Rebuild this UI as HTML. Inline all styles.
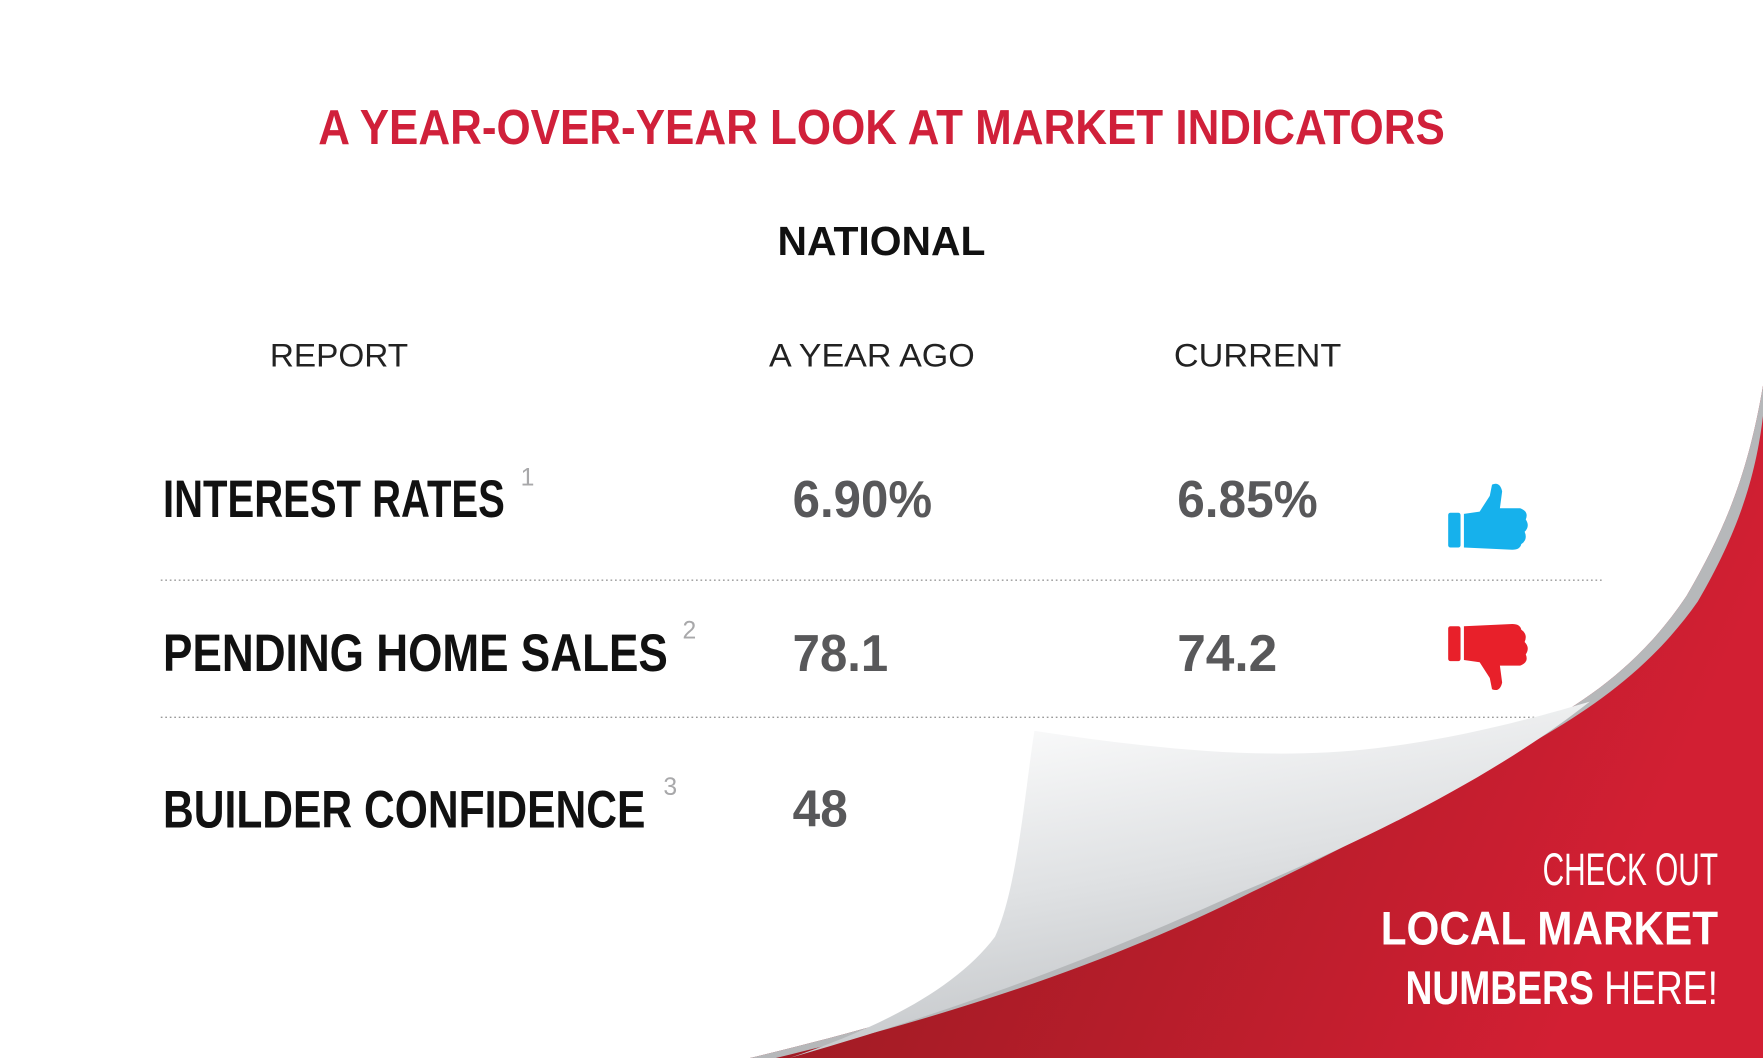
<!DOCTYPE html>
<html><head><meta charset="utf-8"><style>
html,body{margin:0;padding:0;background:#fff;}
svg{display:block;}
text{font-family:"Liberation Sans",sans-serif;}
</style></head><body>
<svg width="1763" height="1058" viewBox="0 0 1568 941" preserveAspectRatio="none" xmlns="http://www.w3.org/2000/svg">
<defs>
<linearGradient id="red" x1="0" y1="0" x2="1" y2="0.3">
<stop offset="0" stop-color="#8e1a1f"/><stop offset="0.6" stop-color="#b51d2a"/><stop offset="1" stop-color="#d21f33"/>
</linearGradient>
<linearGradient id="flap" x1="0.2" y1="0" x2="0.6" y2="1">
<stop offset="0" stop-color="#ffffff"/><stop offset="0.5" stop-color="#dfe1e3"/><stop offset="1" stop-color="#b9bcbf"/>
</linearGradient>
</defs>
<rect width="1568" height="941" fill="#fff"/>
<text x="784" y="128" text-anchor="middle" font-size="44" font-weight="bold" fill="#d0203a" textLength="1002" lengthAdjust="spacingAndGlyphs">A YEAR-OVER-YEAR LOOK AT MARKET INDICATORS</text>
<text x="784" y="227" text-anchor="middle" font-size="36" font-weight="bold" fill="#111" textLength="185" lengthAdjust="spacingAndGlyphs">NATIONAL</text>
<text x="240" y="326" font-size="29" fill="#222" textLength="123" lengthAdjust="spacingAndGlyphs">REPORT</text>
<text x="684" y="326" font-size="29" fill="#222" textLength="183" lengthAdjust="spacingAndGlyphs">A YEAR AGO</text>
<text x="1044" y="326" font-size="29" fill="#222" textLength="149" lengthAdjust="spacingAndGlyphs">CURRENT</text>

<g font-weight="bold" font-size="47" fill="#111">
<text x="145" y="460" textLength="304" lengthAdjust="spacingAndGlyphs">INTEREST RATES</text>
<text x="145" y="597" textLength="449" lengthAdjust="spacingAndGlyphs">PENDING HOME SALES</text>
<text x="145" y="736" textLength="429" lengthAdjust="spacingAndGlyphs">BUILDER CONFIDENCE</text>
</g>
<g font-size="22" fill="#a8a8aa">
<text x="463" y="432">1</text>
<text x="607" y="568">2</text>
<text x="590" y="707">3</text>
</g>
<g font-weight="bold" font-size="46" fill="#58585a">
<text x="705" y="460" textLength="124" lengthAdjust="spacingAndGlyphs">6.90%</text>
<text x="1047" y="460" textLength="125" lengthAdjust="spacingAndGlyphs">6.85%</text>
<text x="705" y="597" textLength="85" lengthAdjust="spacingAndGlyphs">78.1</text>
<text x="1047" y="597" textLength="89" lengthAdjust="spacingAndGlyphs">74.2</text>
<text x="705" y="735" textLength="49" lengthAdjust="spacingAndGlyphs">48</text>
</g>
<line x1="143" y1="516" x2="1425" y2="516" stroke="#999" stroke-width="1.2" stroke-dasharray="1.5 2.5"/>
<line x1="143" y1="638" x2="1425" y2="638" stroke="#999" stroke-width="1.2" stroke-dasharray="1.5 2.5"/>

<g fill="#16b1ec">
<rect x="1288" y="456" width="11" height="31" rx="2"/>
<path d="M1302,457 L1316,455 L1325,441 L1327,431 Q1334,428 1336,437 L1334,452 L1352,452 Q1360,455 1357,462 Q1361,468 1356,473 Q1359,480 1353,484 Q1352,489 1345,489 L1302,487 Z"/>
</g>
<g fill="#e8202a">
<rect x="1288" y="557" width="11" height="31" rx="2"/>
<path d="M1302,587 L1316,589 L1325,603 L1327,613 Q1334,616 1336,607 L1334,592 L1352,592 Q1360,589 1357,582 Q1361,576 1356,571 Q1359,564 1353,560 Q1352,555 1345,555 L1302,557 Z"/>
</g>

<path d="M1568,343 C1555,420 1535,470 1500,530 C1460,590 1410,625 1356,653 C1280,700 1190,750 1100,790 C1000,840 880,890 667,941 L1568,941 Z" fill="url(#red)"/>
<path d="M1568,343 C1555,420 1535,470 1500,530 C1460,590 1410,625 1356,653 C1280,700 1190,750 1100,790 C1000,840 880,890 667,941 L690,941 C880,895 1010,845 1110,795 C1200,752 1290,705 1360,662 C1420,628 1470,592 1510,535 C1548,470 1562,420 1568,370 Z" fill="#b6b8ba"/>
<path d="M920,650 C1000,662 1080,672 1160,670 C1260,668 1360,640 1414,624 C1330,690 1220,745 1100,795 C1000,840 880,890 702,941 C780,915 850,880 885,833 C905,790 912,700 920,650 Z" fill="url(#flap)"/>

<g fill="#fff" text-anchor="end">
<text x="1528" y="787" font-size="40" textLength="156" lengthAdjust="spacingAndGlyphs">CHECK OUT</text>
<text x="1528" y="840" font-size="42" font-weight="bold" textLength="300" lengthAdjust="spacingAndGlyphs">LOCAL MARKET</text>
<text x="1528" y="893" font-size="42" textLength="278" lengthAdjust="spacingAndGlyphs"><tspan font-weight="bold">NUMBERS</tspan> HERE!</text>
</g>
</svg>
</body></html>
